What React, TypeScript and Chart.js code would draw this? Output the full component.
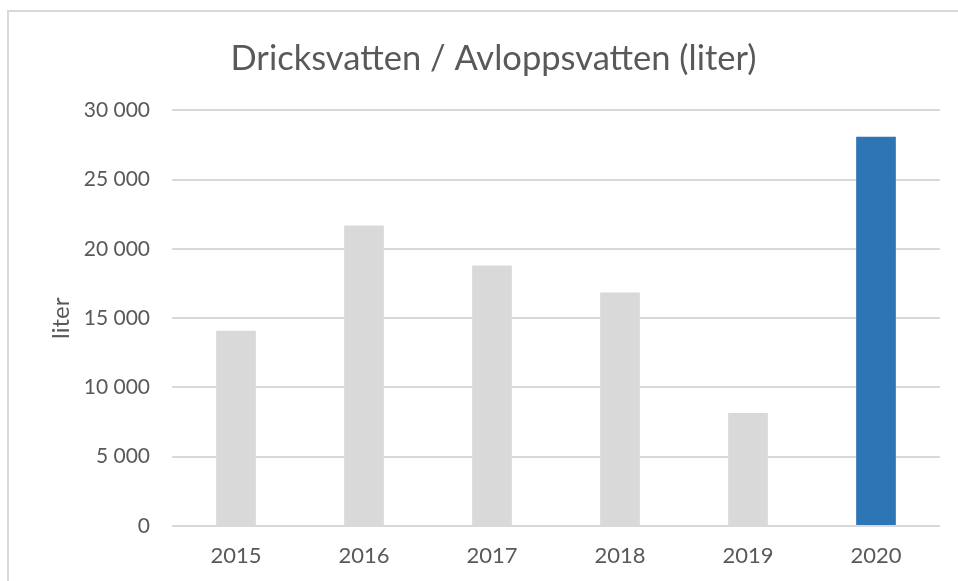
import React, { useEffect, useRef } from "react";
import { Chart, registerables } from "chart.js";

Chart.register(...registerables);

const categories = ["2015", "2016", "2017", "2018", "2019", "2020"];
const values = [14100, 21700, 18800, 16850, 8150, 28100];
const barColors = ["#d9d9d9", "#d9d9d9", "#d9d9d9", "#d9d9d9", "#d9d9d9", "#2e75b6"];
const titleText = "Dricksvatten / Avloppsvatten (liter)";
const yAxisTitle = "liter";
const yMin = 0;
const yMax = 30000;
const yStep = 5000;

const TEXT = "#595959";
const FONT = "Lato, 'Open Sans', sans-serif";

const fmt = (v: number) => {
  const s = Math.round(v).toString();
  return s.replace(/\B(?=(\d{3})+(?!\d))/g, "\u00a0");
};

const framePlugin = {
  id: "frame",
  beforeDraw(chart: any) {
    const ctx = chart.ctx;
    ctx.save();
    ctx.fillStyle = "#ffffff";
    ctx.fillRect(0, 0, chart.width, chart.height);
    ctx.strokeStyle = "#d9d9d9";
    ctx.lineWidth = 2;
    ctx.beginPath();
    ctx.moveTo(chart.width + 5, 11);
    ctx.lineTo(8, 11);
    ctx.lineTo(8, chart.height + 5);
    ctx.stroke();
    ctx.restore();
  },
};

export default function App() {
  const ref = useRef<HTMLCanvasElement>(null);
  useEffect(() => {
    if (!ref.current) return;
    const chart = new Chart(ref.current, {
      type: "bar",
      data: {
        labels: categories,
        datasets: [
          {
            data: values,
            backgroundColor: barColors,
            borderWidth: 0,
            barPercentage: 0.31,
            categoryPercentage: 1,
          },
        ],
      },
      plugins: [framePlugin],
      options: {
        responsive: false,
        animation: false,
        layout: { padding: { left: 47, right: 18, top: 38, bottom: 0 } },
        plugins: {
          legend: { display: false },
          tooltip: { enabled: false },
          title: {
            display: true,
            text: titleText,
            color: TEXT,
            font: { family: FONT, size: 34.5, weight: "normal" },
            padding: { top: 0, bottom: 31 },
          },
        },
        scales: {
          x: {
            grid: { display: false, drawTicks: false },
            border: { display: false },
            ticks: { color: TEXT, font: { family: FONT, size: 22 }, padding: 17 },
            afterFit: (s: any) => {
              s.height = 55;
            },
          },
          y: {
            min: yMin,
            max: yMax,
            grid: { color: "#d9d9d9", lineWidth: 2, drawTicks: false },
            border: { display: false },
            ticks: {
              stepSize: yStep,
              color: TEXT,
              font: { family: FONT, size: 21 },
              padding: 22,
              callback: (v: any) => fmt(Number(v)),
            },
            title: {
              display: true,
              text: yAxisTitle,
              color: TEXT,
              font: { family: FONT, size: 24 },
              padding: 0,
            },
            afterFit: (s: any) => {
              s.width = 172 - 47;
            },
          },
        },
      },
    });
    return () => chart.destroy();
  }, []);
  return (
    <div style={{ position: "absolute", left: 0, top: 0, width: 958, height: 581, background: "#fff" }}>
      <canvas ref={ref} width={958} height={581} style={{ display: "block" }} />
    </div>
  );
}
